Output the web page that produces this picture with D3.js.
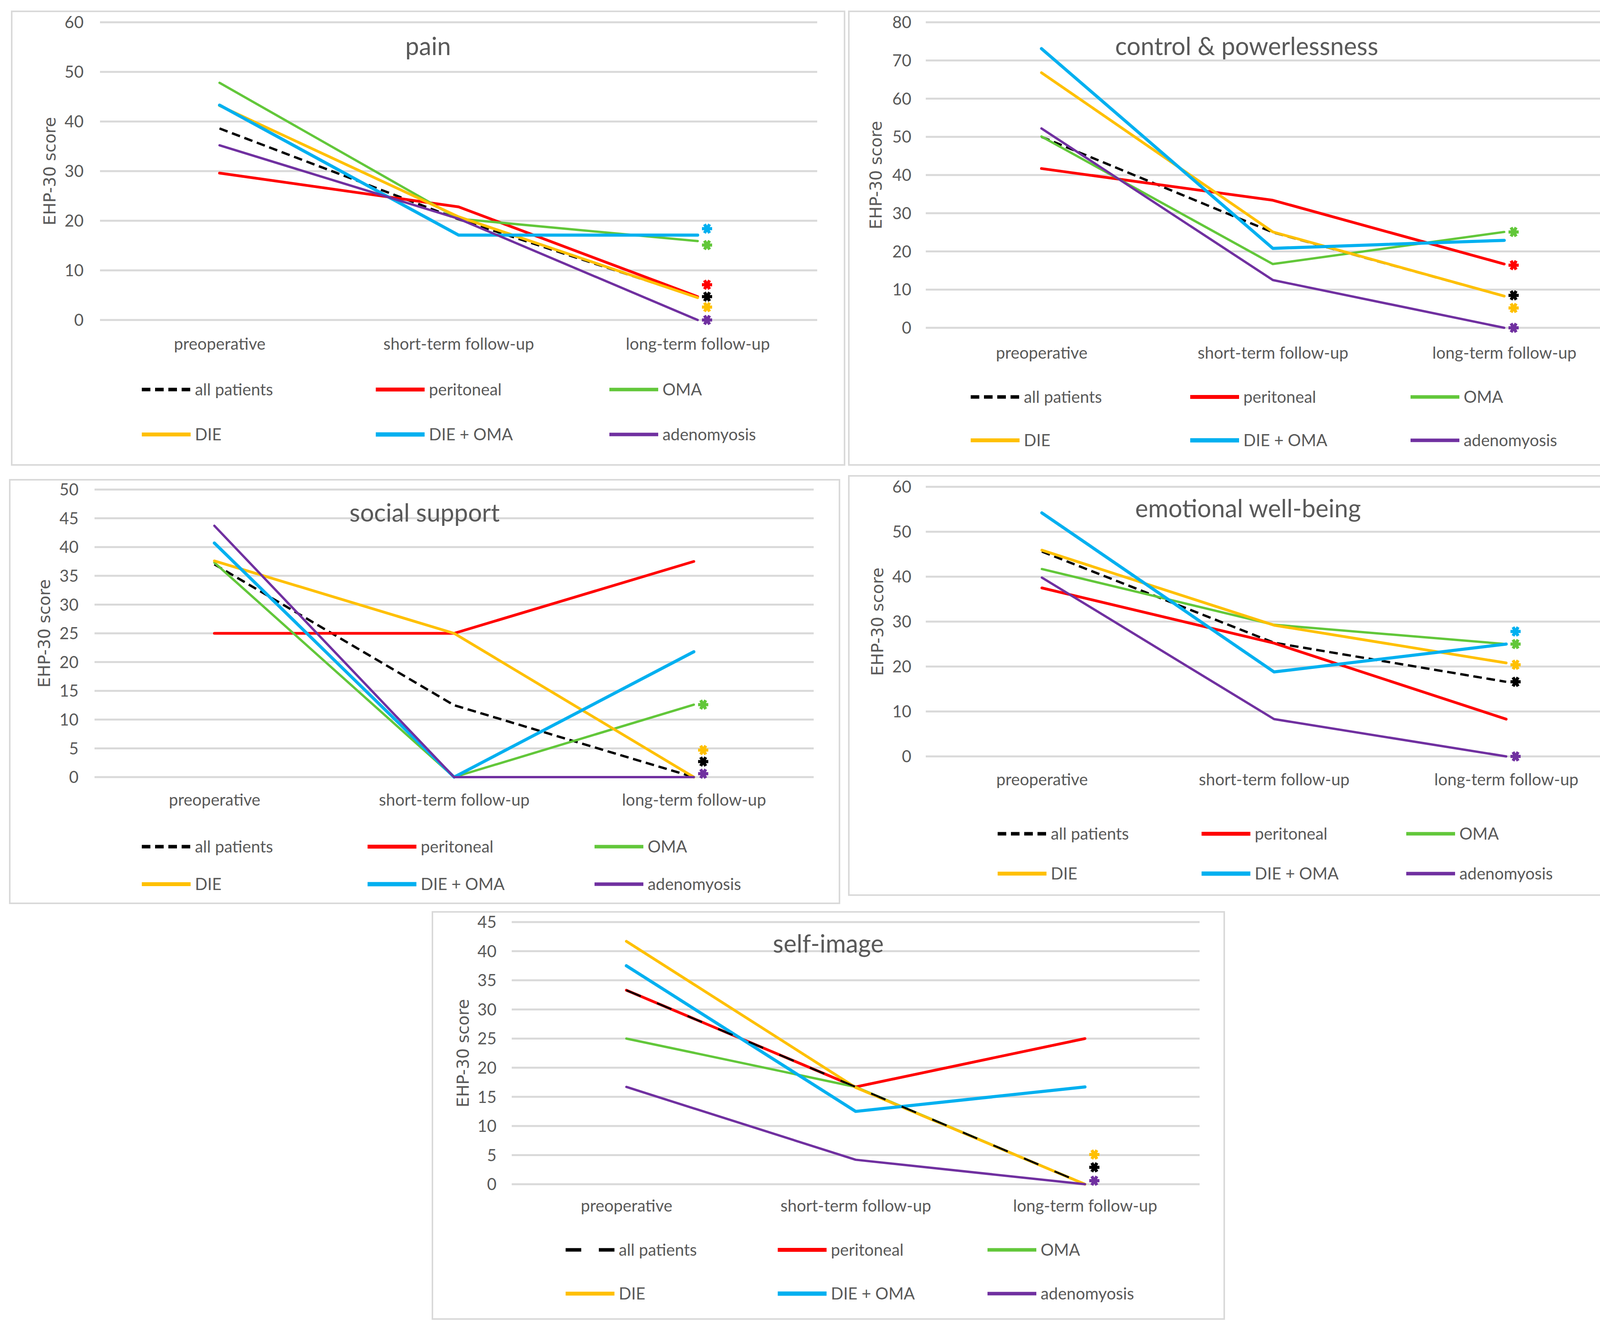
<!DOCTYPE html>
<html><head><meta charset="utf-8">
<script src="https://cdn.jsdelivr.net/npm/d3@7/dist/d3.min.js"></script>
<style>html,body{margin:0;padding:0;background:#fff}</style>
</head><body>
<svg id="chart" width="4241" height="3399" xmlns="http://www.w3.org/2000/svg"></svg>
<script>
// ---------------- DATA ----------------
const categories = ["preoperative", "short-term follow-up", "long-term follow-up"];
const seriesNames = ["all patients", "peritoneal", "OMA", "DIE", "DIE + OMA", "adenomyosis"];
const panelTitles = ["pain", "control & powerlessness", "social support", "emotional well-being", "self-image"];
const yAxisTitle = "EHP-30 score";

// values per series (order of seriesNames), per category
const painValues = [
  [38.6, 20.3, 4.6],
  [29.6, 22.8, 4.7],
  [47.8, 20.4, 15.9],
  [43.2, 20.8, 4.5],
  [43.3, 17.1, 17.1],
  [35.2, 20.4, 0]
];
const controlValues = [
  [50.0, 25.0, 8.3],
  [41.7, 33.4, 16.7],
  [50.1, 16.7, 25.1],
  [66.8, 25.1, 8.3],
  [73.1, 20.8, 22.9],
  [52.2, 12.5, 0]
];
const socialValues = [
  [37.0, 12.5, 0],
  [25.0, 25.0, 37.5],
  [37.3, 0, 12.6],
  [37.6, 25.0, 0],
  [40.7, 0, 21.8],
  [43.7, 0, 0]
];
const emotionalValues = [
  [45.6, 25.3, 16.6],
  [37.5, 25.2, 8.3],
  [41.7, 29.3, 25.0],
  [45.9, 29.2, 20.8],
  [54.2, 18.8, 25.0],
  [39.8, 8.3, 0]
];
const selfImageValues = [
  [33.3, 16.7, 0],
  [33.3, 16.7, 25.0],
  [25.0, 16.7, 0],
  [41.7, 16.6, 0],
  [37.5, 12.5, 16.7],
  [16.7, 4.2, 0]
];

// significance asterisks at long-term follow-up: [series, y value]
const painStars = [["DIE + OMA", 18.4], ["OMA", 15.1], ["peritoneal", 7.1], ["all patients", 4.7], ["DIE", 2.6], ["adenomyosis", 0]];
const controlStars = [["OMA", 25.1], ["peritoneal", 16.4], ["all patients", 8.5], ["DIE", 5.2], ["adenomyosis", 0]];
const socialStars = [["OMA", 12.6], ["DIE", 4.7], ["all patients", 2.7], ["adenomyosis", 0.6]];
const emotionalStars = [["DIE + OMA", 27.8], ["OMA", 25.0], ["DIE", 20.4], ["all patients", 16.6], ["adenomyosis", 0]];
const selfImageStars = [["DIE", 5.1], ["all patients", 2.9], ["adenomyosis", 0.6]];

// y tick labels
const painTicks = [0, 10, 20, 30, 40, 50, 60];
const controlTicks = [0, 10, 20, 30, 40, 50, 60, 70, 80];
const socialTicks = [0, 5, 10, 15, 20, 25, 30, 35, 40, 45, 50];
const emotionalTicks = [0, 10, 20, 30, 40, 50, 60];
const selfImageTicks = [0, 5, 10, 15, 20, 25, 30, 35, 40, 45];

// ---------------- STYLE / LAYOUT ----------------
const seriesColors = ["#000000", "#FF0000", "#62C73A", "#FFC000", "#00B0F0", "#7030A0"];
const seriesWidths = [6, 7, 6, 7, 8, 6];
const textColor = "#595959";
const gridColor = "#D9D9D9";
const fontMain = "Lato, 'Open Sans', sans-serif";

const layouts = [
  {box: [30, 29, 2162, 1190], px: [256, 2092], py: [819, 57], titleY: 119, catY: 880, rows: [997, 1112], cols: [363, 962, 1560], labR: 214, ytX: 127, dash: "22,12", blackOnTop: false},
  {box: [2173, 29, 4210, 1190], px: [2370, 4147], py: [839, 57], titleY: 119, catY: 903, rows: [1016, 1127], cols: [2485, 3047, 3611], labR: 2333, ytX: 2242, dash: "22,12", blackOnTop: false},
  {box: [25, 1228, 2149, 2312], px: [242, 2083], py: [1989, 1253], titleY: 1313, catY: 2047, rows: [2167, 2263], cols: [363, 941, 1522], labR: 201, ytX: 113, dash: "22,12", blackOnTop: false},
  {box: [2173, 1218, 4217, 2291], px: [2370, 4153], py: [1936, 1246], titleY: 1302, catY: 1995, rows: [2134, 2236], cols: [2554, 3076, 3600], labR: 2333, ytX: 2246, dash: "22,12", blackOnTop: false},
  {box: [1107, 2334, 3134, 3376], px: [1310, 3071], py: [3031, 2360], titleY: 2416, catY: 3086, rows: [3199, 3311], cols: [1448, 1991, 2528], labR: 1271, ytX: 1185, dash: "40,45", blackOnTop: true}
];

const panelValues = [painValues, controlValues, socialValues, emotionalValues, selfImageValues];
const panelStars = [painStars, controlStars, socialStars, emotionalStars, selfImageStars];
const panelTicks = [painTicks, controlTicks, socialTicks, emotionalTicks, selfImageTicks];

const svg = d3.select("#chart");
svg.append("rect").attr("width", 4241).attr("height", 3399).attr("fill", "#fff");

panelTitles.forEach((title, pi) => {
  const L = layouts[pi];
  const ticks = panelTicks[pi];
  const g = svg.append("g");

  // panel border
  g.append("rect")
    .attr("x", L.box[0]).attr("y", L.box[1])
    .attr("width", L.box[2] - L.box[0]).attr("height", L.box[3] - L.box[1])
    .attr("fill", "#fff").attr("stroke", gridColor).attr("stroke-width", 4);

  const x = d3.scalePoint().domain(categories).range(L.px).padding(0.5);
  const y = d3.scaleLinear().domain([0, d3.max(ticks)]).range(L.py);

  // gridlines
  g.selectAll(".grid").data(ticks).join("line")
    .attr("x1", L.px[0]).attr("x2", L.px[1])
    .attr("y1", d => y(d)).attr("y2", d => y(d))
    .attr("stroke", gridColor).attr("stroke-width", 5);

  // y axis (labels only)
  const yAxis = d3.axisLeft(y).tickValues(ticks).tickSize(0).tickPadding(0).tickFormat(d3.format("d"));
  const ya = g.append("g").attr("transform", `translate(${L.labR},0)`).call(yAxis);
  ya.select(".domain").remove();
  ya.selectAll("text").attr("font-family", fontMain).attr("font-size", 42).attr("fill", textColor).attr("dy", "0.35em");

  // x axis (labels only)
  const xAxis = d3.axisBottom(x).tickSize(0).tickPadding(0);
  const xa = g.append("g").attr("transform", `translate(0,${L.catY})`).call(xAxis);
  xa.select(".domain").remove();
  xa.selectAll("text").attr("font-family", fontMain).attr("font-size", 42).attr("fill", textColor).attr("dy", "0.35em");

  // title
  g.append("text")
    .attr("x", (L.box[0] + L.box[2]) / 2).attr("y", L.titleY)
    .attr("text-anchor", "middle").attr("dy", "0.35em")
    .attr("font-family", fontMain).attr("font-size", 63).attr("fill", textColor)
    .text(title);

  // y axis title
  g.append("text")
    .attr("transform", `translate(${L.ytX},${(L.py[0] + L.py[1]) / 2}) rotate(-90)`)
    .attr("text-anchor", "middle").attr("dy", "0.35em")
    .attr("font-family", "'DejaVu Sans', sans-serif").attr("font-size", 42).attr("fill", textColor)
    .text(yAxisTitle);

  // lines
  const line = d3.line().x((d, i) => x(categories[i])).y(d => y(d));
  let order = seriesNames.map((s, i) => i);
  if (L.blackOnTop) order = order.slice(1).concat([0]);
  order.forEach(si => {
    const p = g.append("path")
      .datum(panelValues[pi][si])
      .attr("d", line)
      .attr("fill", "none")
      .attr("stroke", seriesColors[si])
      .attr("stroke-width", si === 0 && L.blackOnTop ? 5 : seriesWidths[si])
      .attr("stroke-linejoin", "round")
      .attr("stroke-linecap", si === 0 ? "butt" : "round");
    if (si === 0) p.attr("stroke-dasharray", L.dash);
  });

  // significance stars
  const sym = d3.symbol().type(d3.symbolAsterisk).size(480);
  g.selectAll(".star").data(panelStars[pi]).join("path")
    .attr("d", sym)
    .attr("transform", d => `translate(${x(categories[2]) + 24},${y(d[1])}) rotate(90)`)
    .attr("fill", "none")
    .attr("stroke", d => seriesColors[seriesNames.indexOf(d[0])])
    .attr("stroke-width", 8);

  // legend
  seriesNames.forEach((s, si) => {
    const row = Math.floor(si / 3), col = si % 3;
    const lx = L.cols[col], ly = L.rows[row];
    const ln = g.append("line")
      .attr("x1", lx).attr("x2", lx + 125)
      .attr("y1", ly).attr("y2", ly)
      .attr("stroke", seriesColors[si])
      .attr("stroke-width", si === 0 ? 9 : seriesWidths[si] + 3);
    if (si === 0) ln.attr("stroke-dasharray", L.dash);
    g.append("text")
      .attr("x", lx + 136).attr("y", ly).attr("dy", "0.35em")
      .attr("font-family", fontMain).attr("font-size", 42).attr("fill", textColor)
      .text(s);
  });
});
</script>
</body></html>
